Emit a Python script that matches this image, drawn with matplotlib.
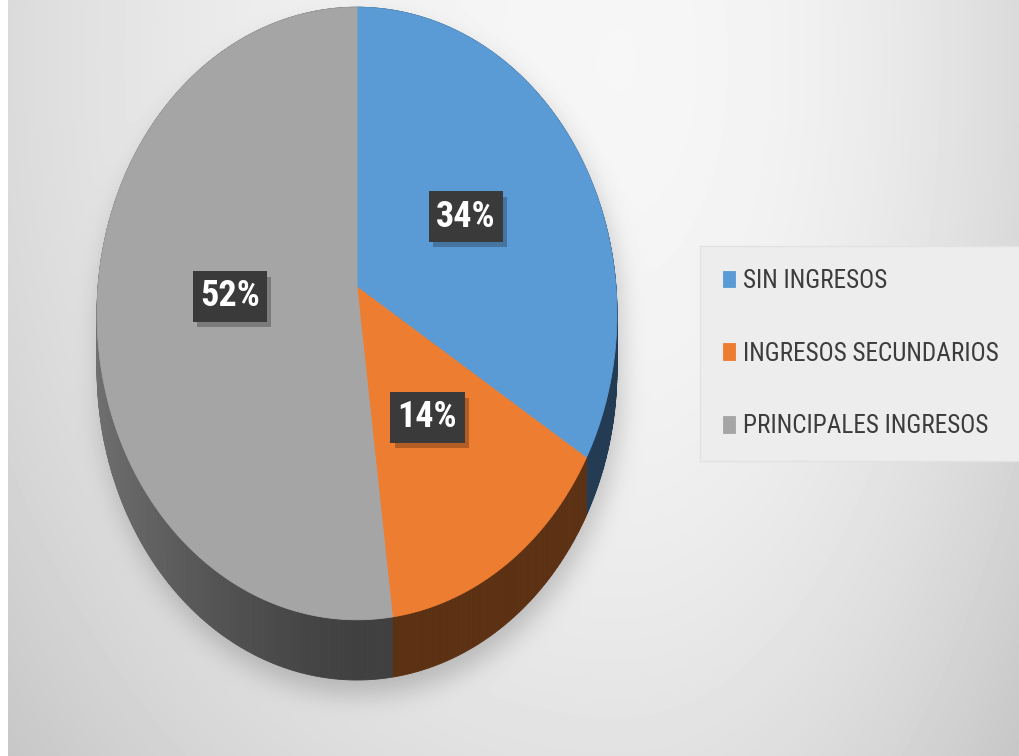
"""3D-style pie: share of income sources."""

import numpy as np
import matplotlib
matplotlib.use("Agg")
import matplotlib.pyplot as plt
from matplotlib import font_manager as fm
from matplotlib import patheffects as pe
from matplotlib.collections import PolyCollection
from matplotlib.colors import to_rgb
from matplotlib.font_manager import FontProperties
from matplotlib.path import Path
from matplotlib.textpath import TextToPath


labels = ["SIN INGRESOS", "INGRESOS SECUNDARIOS", "PRINCIPALES INGRESOS"]
shares = [34, 14, 52]
pct_labels = ["34%", "14%", "52%"]
top_colors = ["#5B9BD5", "#ED7D31", "#A5A5A5"]

W, H = 1020, 756
CX, CY = 357, 287        # pie centre on the image (px)
RX, RY = 259, 304        # horizontal / vertical radius
K = 0.0865               # perspective strength
DEPTH = 55               # extrusion height
LABEL_R = 0.49


def narrow_font():
    names = {f.name for f in fm.fontManager.ttflist}
    for n in ["Liberation Sans Narrow", "Roboto Condensed", "Open Sans Condensed",
              "Noto Sans Condensed", "Arimo Narrow"]:
        if n in names:
            return {"family": n}
    for f in fm.fontManager.ttflist:
        if "DejaVuSansCondensed" in f.fname:
            return {"family": "DejaVu Sans", "stretch": "condensed"}
    return {"family": "DejaVu Sans"}


FONT = narrow_font()


def fit_size(text, width_px, weight="normal"):
    prop = FontProperties(size=10, weight=weight, **FONT)
    w, _, _ = TextToPath().get_text_width_height_descent(text, prop, ismath=False)
    return 10 * (width_px * 72 / 100) / w


def project(theta, r=1.0, z=0.0):
    """theta in degrees, clockwise from 12 o'clock; returns image px."""
    t = np.radians(theta)
    X = r * np.sin(t)
    Y = r * np.cos(t)
    w = 1 + K * Y
    return CX + RX * X / w, CY - RY * Y / w + z / w


def side_shade(color, theta):
    x = np.sin(np.radians(theta))
    f = 0.39 + 0.29 * max(0.0, -x) ** 1.3
    return tuple(c * f for c in to_rgb(color))


def background():
    yy, xx = np.mgrid[0:H, 0:W].astype(float)
    sx = np.where(xx < 620, 620.0, 400.0)
    bg = 0.965 - 0.11 * ((xx - 620) / sx) ** 2 - 0.08 * ((yy - 60) / 700) ** 2

    # soft shadow under the pie
    th = np.linspace(0, 360, 721)
    tu, tv = project(th)
    bu, bv = project(th, z=DEPTH)
    pts = np.c_[xx.ravel() - 3, yy.ravel() - 14]
    mask = (Path(np.c_[tu, tv]).contains_points(pts) | Path(np.c_[bu, bv]).contains_points(pts))
    mask = mask.reshape(H, W).astype(float)
    kern = np.ones(25) / 25
    for _ in range(3):
        mask = np.apply_along_axis(lambda m: np.convolve(m, kern, mode="same"), 1, mask)
        mask = np.apply_along_axis(lambda m: np.convolve(m, kern, mode="same"), 0, mask)
    bg = bg * (1 - 0.2 * mask)
    bg[:, :8] = 1.0
    return np.clip(bg, 0, 1)


def main():
    fig = plt.figure(figsize=(W / 100, H / 100), dpi=100)
    ax = fig.add_axes([0, 0, 1, 1])
    ax.set_xlim(0, W)
    ax.set_ylim(H, 0)
    ax.axis("off")

    ax.imshow(background(), cmap="gray", vmin=0, vmax=1, extent=(0, W, H, 0), zorder=0)

    bounds = np.concatenate([[0], np.cumsum(shares)]) / sum(shares) * 360

    # extruded side, far quads first
    quads, cols, depth = [], [], []
    for i in range(len(shares)):
        th = np.arange(bounds[i], bounds[i + 1] + 0.01, 0.5)
        if th[-1] < bounds[i + 1]:
            th = np.append(th, bounds[i + 1])
        for a, b in zip(th[:-1], th[1:]):
            u0, v0 = project(a)
            u1, v1 = project(b)
            u2, v2 = project(b, z=DEPTH)
            u3, v3 = project(a, z=DEPTH)
            quads.append([(u0, v0), (u1, v1), (u2, v2), (u3, v3)])
            cols.append(side_shade(top_colors[i], (a + b) / 2))
            depth.append(np.cos(np.radians((a + b) / 2)))
    order = np.argsort(depth)[::-1]
    pc = PolyCollection([quads[j] for j in order], facecolors=[cols[j] for j in order],
                        edgecolors=[cols[j] for j in order], linewidths=0.6, zorder=2)
    ax.add_collection(pc)

    # top face
    handles = []
    for i, (lab, col) in enumerate(zip(labels, top_colors)):
        th = np.linspace(bounds[i], bounds[i + 1], 200)
        u, v = project(th)
        u = np.concatenate([[CX], u])
        v = np.concatenate([[CY], v])
        (poly,) = ax.fill(u, v, color=col, lw=0.6, ec=col, zorder=3, label=lab)
        handles.append(poly)

    # percentage boxes
    pct_size = 26
    for i, txt in enumerate(pct_labels):
        mid = (bounds[i] + bounds[i + 1]) / 2
        lu, lv = project(mid, r=LABEL_R)
        t = ax.text(lu, lv, txt, ha="center", va="center", fontsize=pct_size, fontweight="bold",
                    color="white", zorder=5,
                    bbox=dict(boxstyle="square,pad=0.2", fc="#3A3A3A", ec="none"), **FONT)
        t.get_bbox_patch().set_path_effects(
            [pe.SimplePatchShadow(offset=(3, -4), shadow_rgbFace="#000000", alpha=0.25), pe.Normal()])

    leg_size = min(fit_size("INGRESOS SECUNDARIOS", 257), 19)
    leg = fig.legend(handles=handles, labels=labels, loc="upper left",
                     bbox_to_anchor=(700 / W, 1 - 246 / H), prop=dict(size=leg_size, **FONT),
                     frameon=True, fancybox=False, facecolor="#EDEDED", edgecolor="#E2E2E2",
                     framealpha=1, handlelength=0.5, handleheight=0.62, handletextpad=0.3,
                     labelspacing=1.93, borderpad=0.9, borderaxespad=0)
    for t in leg.get_texts():
        t.set_color("#3C3C3C")

    fig.savefig("out.png", dpi=100)


if __name__ == "__main__":
    main()
